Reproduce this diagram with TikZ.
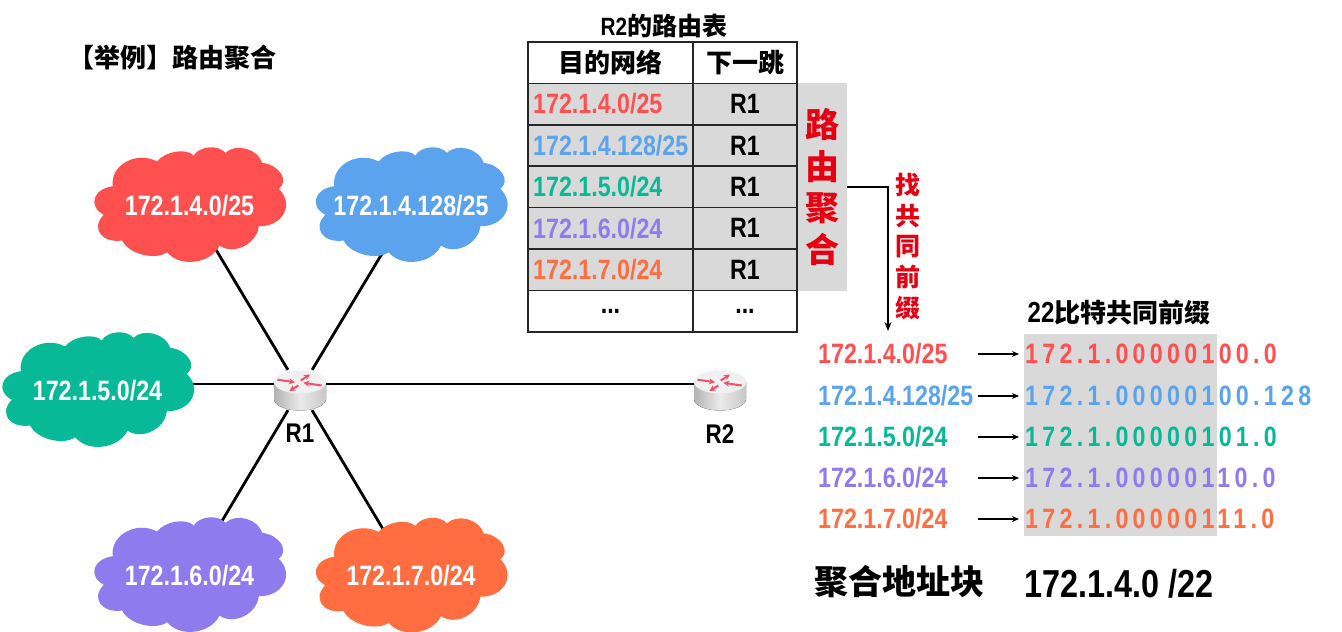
\documentclass[tikz,border=0pt]{standalone}
\usepackage{fontspec}
\setmainfont[FakeStretch=0.83]{Liberation Sans}
\newfontfamily\spaced[FakeStretch=0.83,LetterSpace=15.3]{Liberation Sans}
\newfontfamily\cjk{Noto Sans CJK SC}
\usepackage{tikz}
\usetikzlibrary{arrows.meta,backgrounds,positioning}
\definecolor{netA}{HTML}{FF5050}
\definecolor{netB}{HTML}{5BA3EC}
\definecolor{netC}{HTML}{08B998}
\definecolor{netD}{HTML}{8E7CEF}
\definecolor{netE}{HTML}{FF6D40}
\definecolor{sumgray}{HTML}{D9D9D9}
\definecolor{sumred}{HTML}{E60012}
\definecolor{routerpink}{HTML}{F0506E}
\tikzset{
	txt/.style={font=\fontsize{#1}{#1}\selectfont\bfseries, inner sep=0pt},
	txt/.default=28,
	cjktxt/.style={font=\fontsize{#1}{#1}\selectfont\cjk\bfseries, inner sep=0pt},
	stacked/.style 2 args={font=\fontsize{#1}{#2}\selectfont\cjk\bfseries, inner sep=0pt, align=center, text=sumred},
	nettxt/.style={txt, text=white},
	wire/.style={black, line width=2.8pt},
	link/.style={black, line width=1.5pt, -{Stealth[length=9pt,width=7pt]}},
	cell/.style={draw=black!85, line width=1.6pt, minimum height=41.4, inner sep=0pt, outer sep=0pt, txt},
	routerbox/.style={minimum width=52, minimum height=40, inner sep=0pt},
	rarrow/.style={routerpink, line width=2pt, -{Stealth[length=6pt,width=6pt]}},
	router/.pic={
		\fill[left color=black!30, right color=black!22, middle color=black!8]
			(-26,-8) -- (-26,9) arc[start angle=180, end angle=0, x radius=26, y radius=11.5] -- (26,-8) -- cycle;
		\fill[black!6] (0,-8) ellipse[x radius=26, y radius=11.5];
		\draw[rarrow] (-22.5,-10.3) -- (-5,-7.8);
		\draw[rarrow] (.7,-9.5) -- (10,-15.5);
		\draw[rarrow] (21.7,-4.5) -- (3.3,-7.2);
		\draw[rarrow] (-1.7,-4.5) -- (-10.7,1);
	},
	netcloud/.pic={
		\fill[pic actions] (-32.3,-44)
			.. controls (-25,-54.2) and (-3,-57.8) .. (4.3,-50)
			.. controls (9.6,-59.5) and (28.7,-61.2) .. (36,-52.7)
			.. controls (46.3,-62.7) and (68.4,-56.7) .. (72.7,-42.7)
			.. controls (90,-40.5) and (100,-24.9) .. (89.3,-16.7)
			.. controls (105.3,-1.2) and (93.3,21.2) .. (69.3,20.7)
			.. controls (67.4,38.6) and (43.9,50.1) .. (30,40)
			.. controls (21.5,58.3) and (-9.8,62.4) .. (-22.3,46.7)
			.. controls (-34.3,55.4) and (-61.3,48.3) .. (-67.3,35)
			.. controls (-88,37.9) and (-99,22.4) .. (-85.7,9.3)
			.. controls (-101.9,.6) and (-96.5,-16.6) .. (-76.7,-19.3)
			.. controls (-79.8,-40.2) and (-53.2,-55.1) .. (-32.3,-44) -- cycle;
	}
}
\begin{document}
\begin{tikzpicture}[x=1pt,y=-1pt]
	\useasboundingbox (0,0) rectangle (1342,632);
	\node[cjktxt=26,anchor=west] (Title) at (68,58) {【举例】路由聚合};
	% network
	\node[routerbox] (R1) at (300,390) {};
	\node[routerbox] (R2) at (720,390) {};
	\foreach \n/\x/\y/\col/\ip in {NetA/189.5/205.5/netA/172.1.4.0\slash 25, NetB/411/205.5/netB/172.1.4.128\slash 25, NetC/97.5/390.5/netC/172.1.5.0\slash 24, NetD/189.5/575.5/netD/172.1.6.0\slash 24, NetE/411/576/netE/172.1.7.0\slash 24}{
		\pic[fill=\col] at (\x,\y) {netcloud};
		\node[nettxt] (\n) at (\x,\y) {\ip};
	}
	\begin{scope}[on background layer]
		\foreach \n in {NetA,NetB,NetD,NetE}
			\draw[wire] (R1) -- (\n);
		\coordinate (Bus) at (300,384);
		\draw[wire] (NetC |- Bus) -- (R2 |- Bus);
	\end{scope}
	\pic at (R1) {router};
	\pic at (R2) {router};
	\node[txt=27,below=14pt of R1] (R1name) {R1};
	\node[txt=27,below=14pt of R2] (R2name) {R2};
	% summary box goes under the table border
	\node[fill=sumgray,minimum width=50,minimum height=208,inner sep=0pt] (SumBox) at (822,187) {};
	% table
	\node[txt=25] (Rtitle) at (664,26) {R2{\cjk 的路由表}};
	\node[cell,minimum width=165,cjktxt=26] (Head1) at (610.5,62.7) {目的网络};
	\node[cell,minimum width=104,cjktxt=26,right=0pt of Head1] (Head2) {下一跳};
	\foreach \i/\ip/\col/\prev in {1/172.1.4.0\slash 25/netA/Head1, 2/172.1.4.128\slash 25/netB/Row1A, 3/172.1.5.0\slash 24/netC/Row2A, 4/172.1.6.0\slash 24/netD/Row3A, 5/172.1.7.0\slash 24/netE/Row4A}{
		\node[cell,fill=sumgray,minimum width=165,below=0pt of \prev] (Row\i A) {};
		\node[txt,text=\col,anchor=west,xshift=5pt] (Row\i text) at (Row\i A.west) {\ip};
		\node[cell,fill=sumgray,minimum width=104,right=0pt of Row\i A] (Row\i B) {R1};
	}
	\node[cell,minimum width=165,below=0pt of Row5A] (Row6A) {...};
	\node[cell,minimum width=104,right=0pt of Row6A] (Row6B) {...};
	\node[stacked={34}{41.5}] (SumText) at (SumBox) {路\\由\\聚\\合};
	\coordinate (FindEnd) at (888,331);
	\draw[link] (SumBox.east) -| (FindEnd);
	\node[stacked={25}{30.7}] (FindText) at (908,246.5) {找\\共\\同\\前\\缀};
	% prefixes
	\node[fill=sumgray,minimum width=193,minimum height=202,inner sep=0pt] (PrefixBox) at (1120.5,435) {};
	\node[cjktxt=26] (PrefixTitle) at (1119,313) {{\fontsize{29}{29}\selectfont\rmfamily\bfseries 22}比特共同前缀};
	\foreach \i/\ip/\bits/\col/\y in {1/172.1.4.0\slash 25/172.1.00000100.0/netA/354, 2/172.1.4.128\slash 25/172.1.00000100.128/netB/396, 3/172.1.5.0\slash 24/172.1.00000101.0/netC/437, 4/172.1.6.0\slash 24/172.1.00000110.0/netD/478, 5/172.1.7.0\slash 24/172.1.00000111.0/netE/519}{
		\node[txt,text=\col,anchor=west] (Ip\i) at (818,\y) {\ip};
		\node[txt,text=\col,anchor=west,font=\fontsize{28}{28}\selectfont\spaced\bfseries] (Bits\i) at (1025,\y) {\bits};
		\coordinate (From\i) at (978,\y);
		\draw[link,-{Stealth[length=7pt,width=6pt]},shorten >=6pt] (From\i) -- (Bits\i.west);
	}
	% result
	\node[cjktxt=34,anchor=west] (BlockName) at (814,582) {聚合地址块};
	\node[txt=39,anchor=west] (BlockAddr) at (1024,584) {172.1.4.0 /22};
\end{tikzpicture}
\end{document}
